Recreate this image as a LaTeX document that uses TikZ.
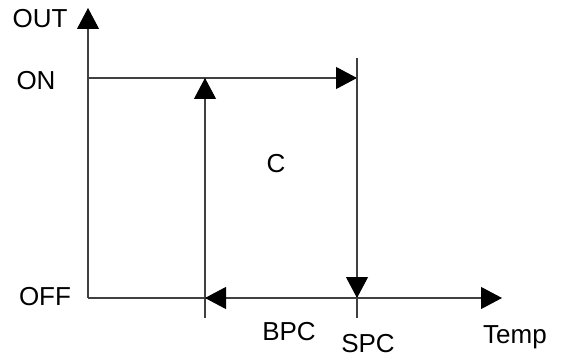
\documentclass[tikz,border=0pt]{standalone}
\usepackage{fontspec}
\setmainfont{Liberation Sans}
\usetikzlibrary{arrows.meta}
\tikzstyle{axis label}=[
    font = \fontsize{26}{28}\selectfont,
    inner sep = 0pt,
    anchor = base
]

\begin{document}
\begin{tikzpicture}[x=1pt, y=-1pt, line width=1.1pt, line/.style = {draw=black!75}, tip/.style = {-{Triangle[length=21pt, width=22pt, color=black]}}]
        \useasboundingbox (0,0) rectangle (562,358);
        \coordinate (o) at (88,298);
        \coordinate (top) at (88,8);
        \coordinate (on) at (88,78);
        \coordinate (spcon) at (357,78);
        \coordinate (spctop) at (357,58);
        \coordinate (spcoff) at (357,298);
        \coordinate (spcbot) at (357,318);
        \coordinate (bpcon) at (205,78);
        \coordinate (bpcoff) at (205,298);
        \coordinate (bpcbot) at (205,318);
        \coordinate (end) at (502,298);

        \node[axis label] (out) at (40,28) {OUT};
        \node[axis label] (onl) at (36,90) {ON};
        \node[axis label] (offl) at (45,305) {OFF};
        \node[axis label] (c) at (276,173) {C};
        \node[axis label] (bpc) at (289,340) {BPC};
        \node[axis label] (spc) at (368,352) {SPC};
        \node[axis label] (temp) at (515,343) {Temp};

        \draw[line, tip] (o) -- (top);
        \draw[line, tip] (o) -- (end);
        \draw[line, tip] (on) -- (spcon);
        \draw[line] (spctop) -- (spcbot);
        \draw[line, tip] (spctop) -- (spcoff);
        \draw[line] (bpcbot) -- (bpcon);
        \draw[line, tip] (bpcbot) -- (bpcon);
        \draw[line, tip] (spcoff) -- (bpcoff);

    \end{tikzpicture}
\end{document}
